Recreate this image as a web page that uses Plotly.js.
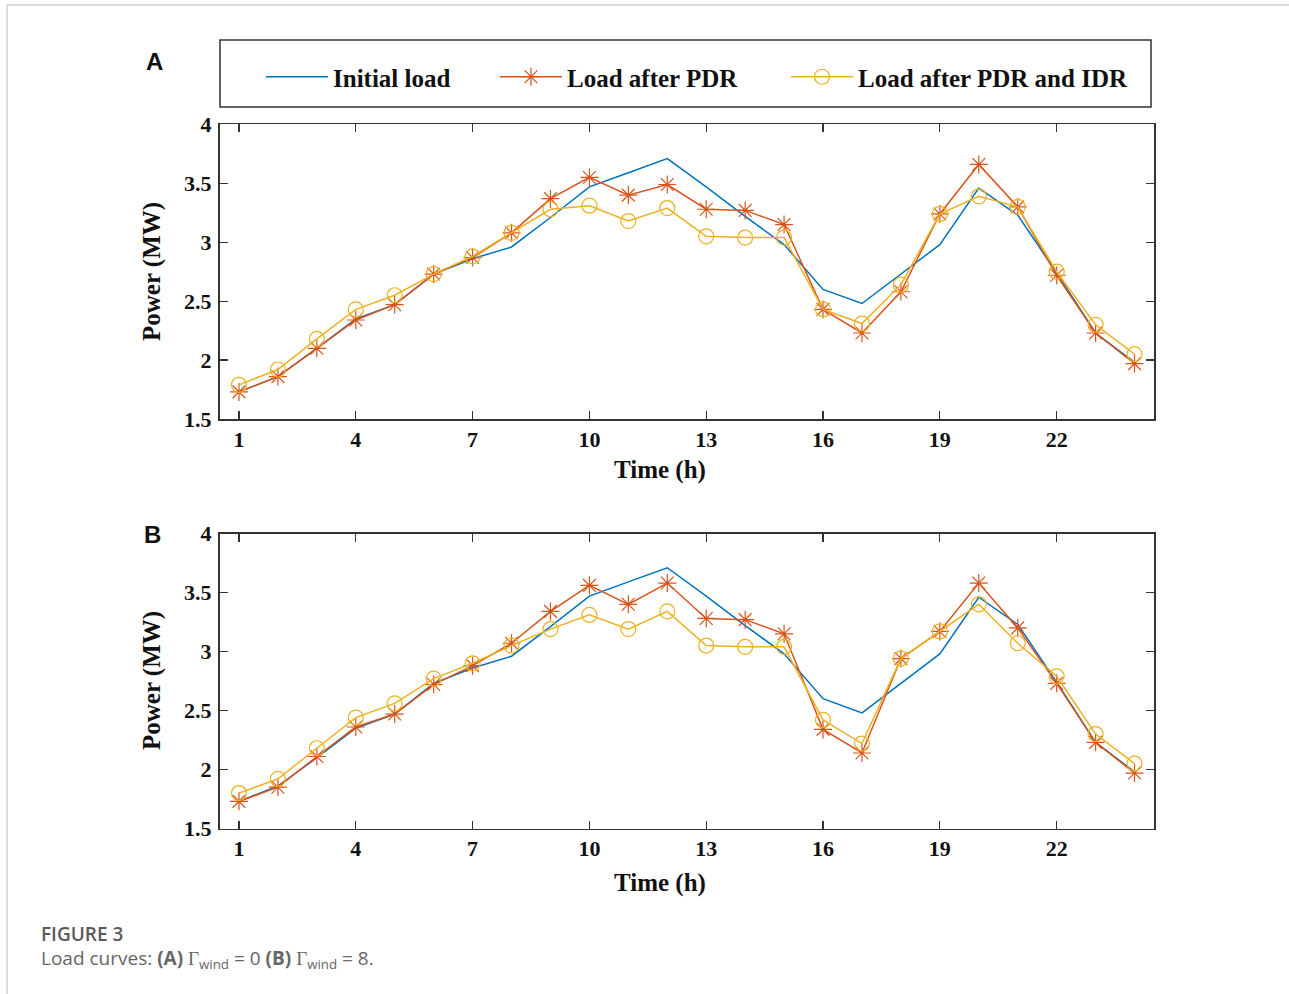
<!DOCTYPE html>
<html><head><meta charset="utf-8">
<script src="https://cdn.plot.ly/plotly-3.0.1.min.js"></script>
<style>body{margin:0;padding:0;background:#fff}</style>
</head><body>
<div id="chart" style="width:1289px;height:994px"></div>
<script>
const hours = [1,2,3,4,5,6,7,8,9,10,11,12,13,14,15,16,17,18,19,20,21,22,23,24];
const xTickVals = [1,4,7,10,13,16,19,22];
const yTickVals = [1.5,2,2.5,3,3.5,4];
const yTickText = ['1.5','2','2.5','3','3.5','4'];
const seriesNames = ['Initial load','Load after PDR','Load after PDR and IDR'];
const initialLoad = [1.73,1.86,2.10,2.35,2.47,2.73,2.86,2.96,3.21,3.47,3.59,3.71,3.47,3.22,2.98,2.60,2.48,2.73,2.98,3.46,3.23,2.74,2.23,1.98];
const pdrA = [1.73,1.86,2.10,2.34,2.47,2.73,2.87,3.08,3.37,3.55,3.40,3.49,3.28,3.27,3.15,2.43,2.23,2.58,3.24,3.66,3.30,2.72,2.23,1.97];
const idrA = [1.79,1.92,2.18,2.43,2.55,2.73,2.88,3.08,3.28,3.31,3.18,3.29,3.05,3.04,3.04,2.43,2.31,2.64,3.24,3.39,3.30,2.75,2.30,2.05];
const pdrB = [1.73,1.85,2.11,2.36,2.47,2.72,2.88,3.07,3.34,3.56,3.40,3.58,3.28,3.27,3.15,2.34,2.14,2.94,3.17,3.58,3.20,2.73,2.23,1.97];
const idrB = [1.80,1.92,2.18,2.44,2.56,2.77,2.90,3.05,3.19,3.31,3.19,3.34,3.05,3.04,3.04,2.42,2.22,2.94,3.17,3.40,3.07,2.79,2.30,2.05];

const W = 1289, H = 994;
const px = v => v / W;
const py = v => 1 - v / H;

const cBlue = '#0072BD', cRed = '#D95319', cYel = '#EDB120';

function mk(y, i, xa, ya, showLeg) {
  const colors = [cBlue, cRed, cYel];
  const syms = [null, 'asterisk-open', 'circle-open'];
  const t = {
    x: hours, y: y, type: 'scatter', name: seriesNames[i],
    xaxis: xa, yaxis: ya,
    mode: i === 0 ? 'lines' : 'lines+markers',
    line: {color: colors[i], width: 1.5},
    showlegend: showLeg,
    legend: ['legend','legend2','legend3'][i]
  };
  if (i > 0) t.marker = {symbol: syms[i], size: 15, color: colors[i], line: {color: colors[i], width: 1.2}};
  return t;
}

const data = [
  mk(initialLoad, 0, 'x', 'y', true),
  mk(pdrA, 1, 'x', 'y', true),
  mk(idrA, 2, 'x', 'y', true),
  mk(initialLoad, 0, 'x2', 'y2', false),
  mk(pdrB, 1, 'x2', 'y2', false),
  mk(idrB, 2, 'x2', 'y2', false)
];

const tickFont = {family: 'Liberation Serif', size: 22, color: '#111', weight: 'bold'};
const frame = {color: '#333', width: 1.5};
function xAx(anchor) {
  return {domain: [px(219.5), px(1154)], range: [0.5, 24.5], anchor: anchor,
    tickvals: xTickVals, ticks: 'inside', ticklen: 8, tickwidth: 1.3, tickcolor: '#333',
    showline: true, linecolor: frame.color, linewidth: frame.width, mirror: 'ticks',
    showgrid: false, zeroline: false, tickfont: tickFont, ticklabelstandoff: 0, fixedrange: true};
}
function yAx(anchor, top, bottom) {
  return {domain: [py(bottom), py(top)], range: [1.5, 4], anchor: anchor,
    tickvals: yTickVals, ticktext: yTickText, ticks: 'inside', ticklen: 8, tickwidth: 1.3, tickcolor: '#333',
    showline: true, linecolor: frame.color, linewidth: frame.width, mirror: 'ticks',
    showgrid: false, zeroline: false, tickfont: tickFont, ticklabelstandoff: 2, fixedrange: true};
}

const legFont = {family: 'Liberation Serif', size: 25, color: '#111', weight: 'bold'};
function leg(xpix) {
  return {x: px(xpix), xanchor: 'left', y: py(77), yanchor: 'middle', orientation: 'h',
    font: legFont, bgcolor: 'rgba(0,0,0,0)', borderwidth: 0, itemwidth: 62};
}

const titleFont = {family: 'Liberation Serif', size: 25, color: '#111', weight: 'bold'};
function ann(text, x, y, font, extra) {
  return Object.assign({text: text, x: px(x), y: py(y), xref: 'paper', yref: 'paper',
    xanchor: 'center', yanchor: 'middle', showarrow: false, font: font}, extra || {});
}
const capFont = {family: 'Open Sans', size: 19, color: '#666'};
const annotations = [
  ann('A', 154, 62, {family: 'Liberation Sans', size: 24, color: '#111', weight: 'bold'}),
  ann('B', 152, 534, {family: 'Liberation Sans', size: 24, color: '#111', weight: 'bold'}),
  ann('Power (MW)', 152, 272, titleFont, {textangle: -90}),
  ann('Power (MW)', 152, 681, titleFont, {textangle: -90}),
  ann('Time (h)', 660, 470, titleFont),
  ann('Time (h)', 660, 883, titleFont),
  ann('FIGURE 3', 39, 934, {family: 'Open Sans', size: 19, color: '#5a5a5a', weight: 600}, {xanchor: 'left'}),
  ann('Load curves: <b>(A)</b> <span style="font-family:Liberation Serif">Γ</span><sub>wind</sub> = 0 <b>(B)</b> <span style="font-family:Liberation Serif">Γ</span><sub>wind</sub> = 8.',
      39, 959, capFont, {xanchor: 'left'})
];

const shapes = [
  {type: 'rect', xref: 'paper', yref: 'paper', x0: px(220), x1: px(1151), y0: py(107), y1: py(40),
   line: {color: '#333', width: 1.5}},
  {type: 'line', xref: 'paper', yref: 'paper', x0: px(7), x1: 1, y0: py(5), y1: py(5), line: {color: '#d0d0d0', width: 1.5}},
  {type: 'line', xref: 'paper', yref: 'paper', x0: px(7), x1: px(7), y0: py(5), y1: 0, line: {color: '#d0d0d0', width: 1.5}}
];

const layout = {
  width: W, height: H, margin: {l: 0, r: 0, t: 0, b: 0},
  paper_bgcolor: '#fff', plot_bgcolor: '#fff',
  xaxis: xAx('y'), yaxis: yAx('x', 124.4, 419),
  xaxis2: xAx('y2'), yaxis2: yAx('x2', 533.5, 828.5),
  legend: leg(261), legend2: leg(495), legend3: leg(786),
  annotations: annotations, shapes: shapes
};

Plotly.newPlot('chart', data, layout, {displayModeBar: false, staticPlot: true});
</script>
</body></html>
